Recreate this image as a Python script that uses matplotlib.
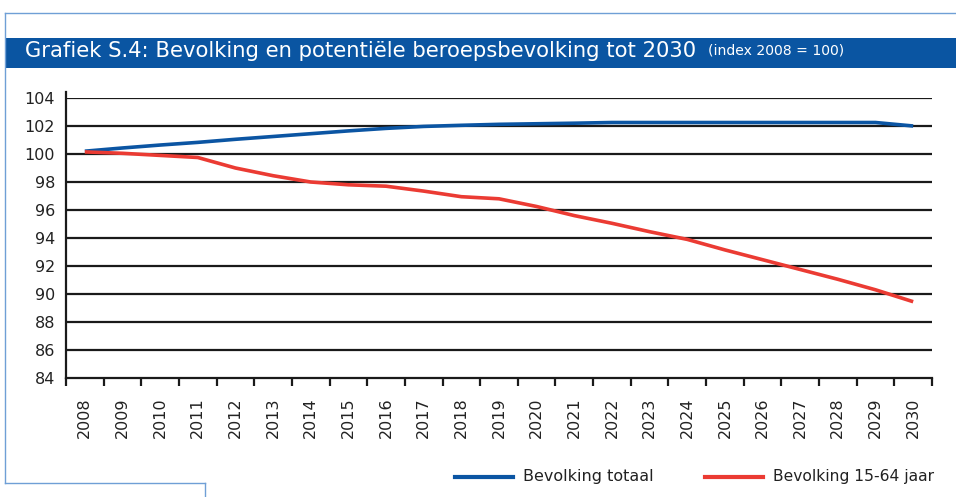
import matplotlib
matplotlib.use("Agg")
import matplotlib.pyplot as plt
from matplotlib.lines import Line2D
from matplotlib.patches import Rectangle

years = [str(y) for y in range(2008, 2031)]
totaal = [100.2, 100.43, 100.64, 100.83, 101.05, 101.25, 101.45, 101.65, 101.83, 101.97, 102.05,
          102.12, 102.16, 102.2, 102.25, 102.25, 102.25, 102.25, 102.25, 102.25, 102.25, 102.25, 102.0]
beroeps = [100.15, 100.05, 99.9, 99.75, 99.0, 98.45, 98.0, 97.8, 97.7, 97.35, 96.95,
           96.8, 96.25, 95.6, 95.05, 94.45, 93.9, 93.15, 92.45, 91.75, 91.05, 90.3, 89.45]
yticks = [84, 86, 88, 90, 92, 94, 96, 98, 100, 102, 104]

title = "Grafiek S.4: Bevolking en potentiële beroepsbevolking tot 2030"
subtitle = "(index 2008 = 100)"
legend_labels = ["Bevolking totaal", "Bevolking 15-64 jaar"]

BLUE = "#0B55A3"
RED = "#EB3B33"
FONT = "DejaVu Sans"
TXT = "#222222"
W, H = 956, 497

fig = plt.figure(figsize=(W/100, H/100), dpi=100)
r = fig.canvas.get_renderer()

def fx(px): return px / W
def fy(py): return 1 - py / H

def fit(txt, target, size):
    w = txt.get_window_extent(renderer=r).width
    txt.set_fontsize(size * target / w)

# frame lines
fc = "#6F9FD6"
fig.add_artist(Line2D([fx(5), 1], [fy(13), fy(13)], color=fc, lw=1.0))
fig.add_artist(Line2D([fx(5), fx(5)], [fy(13), fy(483)], color=fc, lw=1.0))
fig.add_artist(Line2D([fx(5), fx(205)], [fy(483), fy(483)], color=fc, lw=1.0))
fig.add_artist(Line2D([fx(205), fx(205)], [fy(483), 0], color=fc, lw=1.0))

# title band
fig.add_artist(Rectangle((fx(6), fy(68)), 1 - fx(6), 30 / H, color="#0A55A2", lw=0))
t = fig.text(fx(25), fy(51), title, color="white", fontsize=14.5, family=FONT, va="center", ha="left")
fit(t, 675, 14.5)
st = fig.text(fx(708), fy(51), subtitle, color="white", fontsize=9, family=FONT, va="center", ha="left")
fit(st, 137, 9)

ax = fig.add_axes([fx(66), fy(378), (932 - 66) / W, (378 - 98) / H])
x = list(range(len(years)))
for yv in yticks[1:]:
    ax.axhline(yv, color="#1a1a1a", lw=1.6, zorder=1)
ax.plot(x, totaal, color=BLUE, lw=2.6, zorder=3, solid_capstyle="butt")
ax.plot(x, beroeps, color=RED, lw=2.6, zorder=3, solid_capstyle="butt")

ax.set_xlim(-0.5, len(years) - 0.5)
ax.set_ylim(84, 104)
ax.set_yticks(yticks)
ax.set_yticklabels([str(v) for v in yticks], fontsize=11.5, family=FONT, color=TXT)
ax.tick_params(axis="y", length=0, pad=8)
ax.set_xticks(x)
ax.set_xticklabels(years, rotation=90, fontsize=11.5, family=FONT, color=TXT)
ax.tick_params(axis="x", which="major", length=0, pad=14)
ax.set_xticks([i - 0.5 for i in range(len(years) + 1)], minor=True)
ax.tick_params(axis="x", which="minor", length=6, width=1.6, color="#1a1a1a", direction="out")
for s in ["top", "right"]:
    ax.spines[s].set_visible(False)
for s in ["left", "bottom"]:
    ax.spines[s].set_linewidth(1.6)
    ax.spines[s].set_color("#1a1a1a")
ax.spines["left"].set_bounds(84, 104.4)
ax.set_facecolor("none")

# legend (manual)
ly = fy(477)
fig.add_artist(Line2D([fx(455), fx(513)], [ly, ly], color=BLUE, lw=3))
l1 = fig.text(fx(523), ly, legend_labels[0], color=TXT, fontsize=12, family=FONT, va="center", ha="left")
fit(l1, 130, 12)
fig.add_artist(Line2D([fx(705), fx(763)], [ly, ly], color=RED, lw=3))
l2 = fig.text(fx(773), ly, legend_labels[1], color=TXT, fontsize=12, family=FONT, va="center", ha="left")
fit(l2, 160, 12)

fig.savefig("out.png", dpi=100)
